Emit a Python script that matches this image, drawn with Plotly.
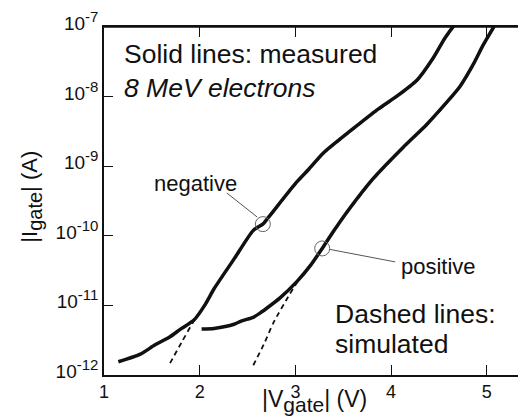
import numpy as np
import plotly.graph_objects as go

# |V_gate| (V) and log10(|I_gate| / A)
neg_meas_v = [1.15, 1.38, 1.53, 1.69, 1.80, 1.94, 2.06, 2.15, 2.36, 2.56, 2.66, 2.72,
              3.01, 3.14, 3.29, 3.61, 3.85, 4.06, 4.27, 4.44, 4.56, 4.68]
neg_meas_logi = [-11.81, -11.70, -11.57, -11.45, -11.34, -11.21, -10.98, -10.76, -10.33, -9.92, -9.83, -9.73,
                 -9.23, -9.04, -8.81, -8.45, -8.19, -7.99, -7.76, -7.44, -7.16, -6.93]

neg_sim_v = [1.69, 1.815, 1.94, 2.06, 2.15, 2.36, 2.56, 2.66, 2.72,
             3.01, 3.14, 3.29, 3.61, 3.85, 4.06, 4.27, 4.44, 4.56, 4.69]
neg_sim_logi = [-11.83, -11.52, -11.22, -10.98, -10.77, -10.33, -9.93, -9.83, -9.74,
                -9.24, -9.05, -8.82, -8.46, -8.20, -8.00, -7.77, -7.45, -7.17, -6.93]

pos_meas_v = [2.02, 2.15, 2.36, 2.44, 2.56, 2.63, 2.70, 2.84, 3.02, 3.16, 3.28, 3.40,
              3.50, 3.81, 4.13, 4.37, 4.58, 4.72, 4.86, 4.96, 5.07, 5.10]
pos_meas_logi = [-11.34, -11.33, -11.27, -11.22, -11.17, -11.11, -11.04, -10.89, -10.65, -10.42, -10.18, -9.93,
                 -9.73, -9.18, -8.72, -8.40, -8.08, -7.85, -7.53, -7.26, -7.00, -6.92]

pos_sim_v = [2.56, 2.67, 2.77, 2.94, 3.07, 3.16, 3.28, 3.40,
             3.50, 3.81, 4.13, 4.37, 4.58, 4.72, 4.86, 4.96, 5.07, 5.10]
pos_sim_logi = [-11.86, -11.56, -11.25, -10.84, -10.56, -10.43, -10.19, -9.94,
                -9.74, -9.19, -8.73, -8.41, -8.09, -7.86, -7.54, -7.27, -7.01, -6.93]

# points marked with a circle (negative, positive)
mark_v = [2.66, 3.28]
mark_logi = [-9.83, -10.18]

y_tickvals = [1e-12, 1e-11, 1e-10, 1e-9, 1e-8, 1e-7]
y_exponents = ["-12", "-11", "-10", "-9", "-8", "-7"]
x_tickvals = [1, 2, 3, 4, 5]
x_range = [1, 5.41]

FONT = "Liberation Sans, Arial, sans-serif"
INK = "#111111"

y_ticktext = ['10<sup><span style="font-size:15px">%s</span></sup>' % e for e in y_exponents]

fig = go.Figure()

for v, li in [(neg_meas_v, neg_meas_logi), (pos_meas_v, pos_meas_logi)]:
    fig.add_trace(go.Scatter(x=v, y=10 ** np.array(li), mode="lines",
                             line=dict(color=INK, width=3.5, shape="spline", smoothing=0.6),
                             showlegend=False))
for v, li in [(neg_sim_v, neg_sim_logi), (pos_sim_v, pos_sim_logi)]:
    fig.add_trace(go.Scatter(x=v, y=10 ** np.array(li), mode="lines",
                             line=dict(color=INK, width=1.8, dash="5px,4px", shape="spline", smoothing=0.6),
                             showlegend=False))

fig.add_trace(go.Scatter(x=mark_v, y=10 ** np.array(mark_logi), mode="markers",
                         marker=dict(symbol="circle-open", size=15, color="#666666", line=dict(width=1)),
                         showlegend=False))

# invisible trace on the top axis so the frame top with its ticks is drawn
fig.add_trace(go.Scatter(x=x_range, y=[1e-12, 1e-12], xaxis="x2", mode="lines",
                         line=dict(width=0), hoverinfo="skip", showlegend=False))

# top edge of the frame
fig.add_shape(type="line", xref="paper", yref="paper", x0=0, y0=1, x1=1, y1=1,
              line=dict(color=INK, width=1.6))

# leader lines from the labels to the circles
fig.add_shape(type="line", xref="paper", yref="paper", x0=0.291, y0=0.523, x1=0.363, y1=0.454,
              line=dict(color="#555555", width=1))
fig.add_shape(type="line", xref="paper", yref="paper", x0=0.535, y0=0.361, x1=0.690, y1=0.325,
              line=dict(color="#555555", width=1))

notes = [
    ("Solid lines: measured", 0.042, 0.923, 26.5),
    ("<i>8 MeV electrons</i>", 0.042, 0.826, 26.5),
    ("negative", 0.113, 0.551, 22),
    ("positive", 0.698, 0.311, 22),
    ("Dashed lines:", 0.542, 0.174, 26.5),
    ("simulated", 0.542, 0.088, 26.5),
]
for text, x, y, size in notes:
    fig.add_annotation(text=text, xref="paper", yref="paper", x=x, y=y,
                       xanchor="left", yanchor="middle", showarrow=False,
                       font=dict(family=FONT, size=size, color=INK))

# axis titles as annotations so they can sit where the original has them
fig.add_annotation(text='|V<sub><span style="font-size:21px">gate</span></sub>| (V)',
                   xref="paper", yref="paper", x=0.498, y=-0.074, xanchor="center", yanchor="middle",
                   showarrow=False, font=dict(family=FONT, size=23, color=INK))
fig.add_annotation(text='|I<sub><span style="font-size:20px">gate</span></sub>| (A)',
                   xref="paper", yref="paper", x=-0.171, y=0.512, xanchor="center", yanchor="middle",
                   textangle=-90, showarrow=False, font=dict(family=FONT, size=22, color=INK))

fig.update_layout(
    xaxis=dict(
        range=x_range, tickvals=x_tickvals, ticks="inside", ticklen=10, tickwidth=1.2,
        tickcolor=INK, showline=True, linecolor=INK, linewidth=1.6, mirror=False,
        showgrid=False, zeroline=False, tickfont=dict(family=FONT, size=18, color=INK),
    ),
    xaxis2=dict(
        range=x_range, tickvals=x_tickvals, overlaying="x", side="top", anchor="y",
        ticks="inside", ticklen=10, tickwidth=1.2, tickcolor=INK,
        showline=True, linecolor=INK, linewidth=1.6, showticklabels=False,
        showgrid=False, zeroline=False,
    ),
    yaxis=dict(
        type="log", range=[-12, -6.995], tickvals=y_tickvals, ticktext=y_ticktext,
        ticks="inside", ticklen=9, tickwidth=1.2, tickcolor=INK,
        showline=True, linecolor=INK, linewidth=1.6, mirror=False,
        ticklabeloverflow="allow", ticklabelshift=-4,
        showgrid=False, zeroline=False, tickfont=dict(family=FONT, size=19, color=INK),
    ),
    # page body has an 8px margin, so the figure is sized to end at the window edge
    width=518, height=411,
    margin=dict(l=96, r=0, t=4, b=44),
    plot_bgcolor="white", paper_bgcolor="white",
    font=dict(family=FONT, color=INK),
)

fig.write_html("out.html")
